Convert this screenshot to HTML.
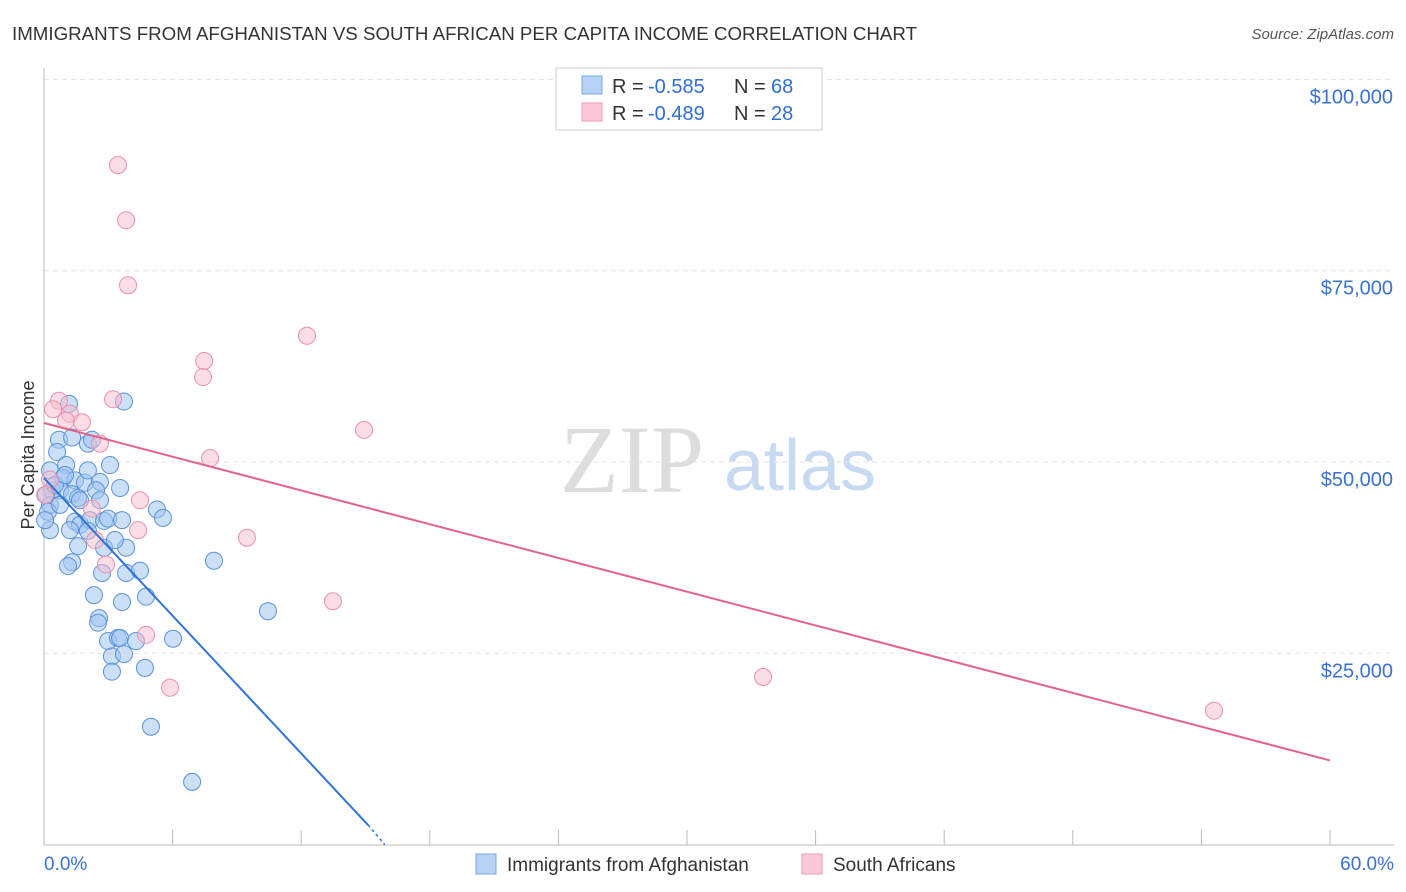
<!DOCTYPE html>
<html><head><meta charset="utf-8"><style>
body{margin:0;background:#fff;font-family:"Liberation Sans",sans-serif;}
#c{position:absolute;left:0;top:0;}
</style></head><body>
<svg id="c" width="1406" height="892" xmlns="http://www.w3.org/2000/svg">
<text x="12" y="40" font-size="18" fill="#333" textLength="905" lengthAdjust="spacingAndGlyphs">IMMIGRANTS FROM AFGHANISTAN VS SOUTH AFRICAN PER CAPITA INCOME CORRELATION CHART</text>
<text x="1394" y="39" font-size="15" fill="#555" font-style="italic" text-anchor="end">Source: ZipAtlas.com</text>
<g>
<text x="632" y="492" font-size="96" font-family="Liberation Serif,serif" fill="#ddd" text-anchor="middle">ZIP</text>
<text x="800" y="490" font-size="72" fill="#c8daf2" text-anchor="middle">atlas</text>
</g>
<g id="grid"></g>
<g id="axes"></g>
<g id="pts"></g>
<g id="lines"></g>
<text transform="translate(34,455) rotate(-90)" font-size="18" fill="#333" text-anchor="middle">Per Capita Income</text>
<g>
<rect x="556" y="68" width="266" height="62" fill="#fff" stroke="#ccc"/>
<rect x="582" y="76" width="20" height="18" fill="#b7d2f5" stroke="#7aa9e6"/>
<rect x="582" y="103" width="20" height="18" fill="#fbc9d8" stroke="#ef9ab5"/>
<text x="612" y="93" font-size="20" fill="#333">R =</text>
<text x="648" y="93" font-size="20" fill="#2f6fd6">-0.585</text>
<text x="734" y="93" font-size="20" fill="#333">N =</text>
<text x="771" y="93" font-size="20" fill="#2f6fd6">68</text>
<text x="612" y="120" font-size="20" fill="#333">R =</text>
<text x="648" y="120" font-size="20" fill="#2f6fd6">-0.489</text>
<text x="734" y="120" font-size="20" fill="#333">N =</text>
<text x="771" y="120" font-size="20" fill="#2f6fd6">28</text>
</g>
<g>
<rect x="476" y="854" width="20" height="20" fill="#b7d2f5" stroke="#7aa9e6"/>
<text x="507" y="871" font-size="19" fill="#333">Immigrants from Afghanistan</text>
<rect x="802" y="854" width="20" height="20" fill="#fbc9d8" stroke="#ef9ab5"/>
<text x="833" y="871" font-size="19" fill="#333">South Africans</text>
</g>
</svg>
<script>
const blueX=[1.17,0.70,1.31,2.05,0.61,1.03,3.08,0.28,0.89,1.45,1.91,2.61,3.73,0.37,0.75,1.31,1.59,2.43,3.55,0.28,0.19,0.28,1.45,1.68,2.15,2.80,2.99,3.64,5.27,5.55,2.05,2.80,1.59,3.83,1.31,1.12,2.71,3.83,4.48,7.93,2.33,3.64,4.76,2.57,2.52,2.99,3.45,3.55,4.29,6.02,3.17,3.73,3.17,4.71,10.45,4.99,6.91,0.09,0.51,0.98,0.05,0.75,1.68,2.05,2.24,1.21,3.31,2.61];
const blueY=[57.6,52.9,53.2,52.4,51.3,49.6,49.6,48.9,47.9,47.6,47.3,47.4,57.9,46.3,46.3,45.8,45.3,46.3,46.6,44.4,43.5,41.1,42.2,41.8,42.4,42.3,42.6,42.4,43.8,42.7,41.0,38.8,39.0,38.8,36.9,36.4,35.5,35.5,35.8,37.1,32.6,31.7,32.4,29.6,29.0,26.6,27.0,27.0,26.6,26.9,24.6,24.9,22.6,23.1,30.5,15.4,8.2,45.7,47.0,48.3,42.4,44.4,45.0,48.9,52.9,41.1,39.8,45.0];
const pinkX=[3.45,3.83,3.92,12.27,7.47,7.42,3.22,0.70,0.42,1.21,1.03,1.77,2.61,14.93,7.75,4.48,2.24,4.39,2.38,9.47,2.89,13.48,4.76,5.88,33.55,54.59,0.28,0.05];
const pinkY=[88.8,81.6,73.1,66.5,63.2,61.1,58.2,58.0,56.9,56.3,55.4,55.2,52.4,54.2,50.5,45.0,43.9,41.1,39.8,40.1,36.6,31.8,27.4,20.5,21.9,17.5,47.7,45.7];
const blueTrend=[[0,47.9],[15.12,2.56],[15.9,0]];
const pinkTrend=[[0,55.1],[60,11.0]];
const yTicks=[25,50,75,100];
const yTickLabels=["$25,000","$50,000","$75,000","$100,000"];
const xTicks=[0,6,12,18,24,30,36,42,48,54,60];
const xTickLabels=["0.0%","60.0%"];
const NS="http://www.w3.org/2000/svg";
const X=v=>44+v*(1286/60);
const Y=v=>844.6-v*(191.3/25);
function mk(tag,attrs,parent){const e=document.createElementNS(NS,tag);for(const k in attrs)e.setAttribute(k,attrs[k]);parent.appendChild(e);return e;}
const grid=document.getElementById('grid'),axes=document.getElementById('axes'),pts=document.getElementById('pts'),lines=document.getElementById('lines');
yTicks.forEach((t,i)=>{
 const l=mk('line',{x1:44,x2:1394,y1:Y(t),y2:Y(t),stroke:'#e3e3e3','stroke-dasharray':'5,4'},grid);
 
 
 const tx=mk('text',{x:1393,y:Y(t)+24,'font-size':20,fill:'#3a72d4','text-anchor':'end'},axes);
 tx.textContent=yTickLabels[i];
 
 
});
const ya=mk('line',{x1:44,x2:44,y1:68,y2:845,stroke:'#bbb'},axes);


const xa=mk('line',{x1:44,x2:1394,y1:845,y2:845,stroke:'#bbb'},axes);


xTicks.forEach(t=>{
 const l=mk('line',{x1:X(t),x2:X(t),y1:830,y2:845,stroke:'#bbb'},axes);
 
 
});
[[0,'start',44],[60,'end',1394]].forEach((d,i)=>{
 const tx=mk('text',{x:d[2],y:870,'font-size':19,fill:'#3a72d4','text-anchor':d[1]},axes);
 tx.textContent=xTickLabels[i];
 
 
});
blueX.forEach((v,i)=>{
 const c=mk('circle',{cx:X(v),cy:Y(blueY[i]),r:8.5,fill:'rgba(160,196,240,0.55)',stroke:'#5b92dc','stroke-width':1},pts);
 
 
});
pinkX.forEach((v,i)=>{
 const c=mk('circle',{cx:X(v),cy:Y(pinkY[i]),r:8.5,fill:'rgba(248,188,206,0.5)',stroke:'#ec90ad','stroke-width':1},pts);
 
 
});
const b1=mk('line',{x1:X(blueTrend[0][0]),y1:Y(blueTrend[0][1]),x2:X(blueTrend[1][0]),y2:Y(blueTrend[1][1]),stroke:'#2f74d6','stroke-width':2},lines);


const b2=mk('line',{x1:X(blueTrend[1][0]),y1:Y(blueTrend[1][1]),x2:X(blueTrend[2][0]),y2:Y(blueTrend[2][1]),stroke:'#2f74d6','stroke-width':1.5,'stroke-dasharray':'3,3'},lines);


const p1=mk('line',{x1:X(pinkTrend[0][0]),y1:Y(pinkTrend[0][1]),x2:X(pinkTrend[1][0]),y2:Y(pinkTrend[1][1]),stroke:'#e4628e','stroke-width':2},lines);


</script>
</body></html>
